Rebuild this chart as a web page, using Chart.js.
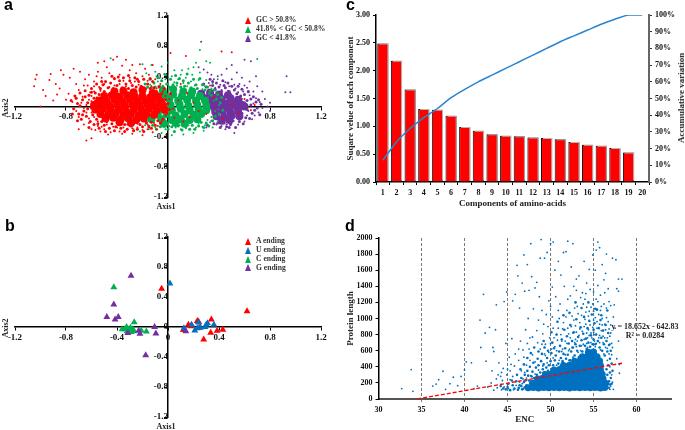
<!DOCTYPE html>
<html>
<head>
<meta charset="utf-8">
<script src="https://cdn.jsdelivr.net/npm/chart.js@4"></script>
<style>
body { margin: 0; background: #fff; }
#page { position: relative; width: 685px; height: 430px; overflow: hidden; }
canvas { position: absolute; }
.txt { position: absolute; font: bold 8px "Liberation Serif", serif; color: #222; white-space: nowrap; }
.letter { position: absolute; font: bold 16px "Liberation Sans", sans-serif; color: #000; line-height: 16px; }
.tri { position: absolute; width: 0; height: 0; border-left: 3.5px solid transparent; border-right: 3.5px solid transparent; border-bottom: 7px solid; }
</style>
</head>
<body>
<div id="page">
<canvas id="chartA" width="340" height="215" style="left:0;top:0"></canvas>
<canvas id="chartB" width="340" height="215" style="left:0;top:215px"></canvas>
<canvas id="chartC" width="345" height="215" style="left:340px;top:0"></canvas>
<canvas id="chartD" width="345" height="215" style="left:340px;top:215px"></canvas>
</div>
<script>
var RED = "#ff0000", GREEN = "#00b050", PURPLE = "#7030a0", BLUE = "#0070c0";
var SERIF = "Liberation Serif";

// panel a, scattered dots
var gcHighDots = [[-1.03,.42],[-1.04,.36],[-1.05,.27],[-.98,.22],[-.96,.14],[-.93,.35],[-.92,.43],[-.88,.3],[-.85,.24],[-.82,.42],[-.87,.16],[-.84,.48],[-.9,.08],[-.8,.09],[-.77,.38],[-.74,.5],[-.72,.3],[-.7,.22],[-.69,.46],[-.67,.13],[-.65,.36],[-.63,.28],[-.62,.42],[-.61,.19],[-.6,.07],[-1,0],[-.78,.17],[-.75,.06],[-.72,-.06],[-.7,-.14],[-.66,-.24],[-.7,-.3],[-.64,-.08],[-.62,-.16],[-.6,-.3],[-.64,.02],[-.66,-.02],[-.68,.05],[-.58,.33],[-.66,.28],[-.56,.4],
[-.55,.58],[-.5,.6],[-.48,.52],[-.43,.62],[-.4,.66],[-.36,.54],[-.33,.62],[-.3,.48],[-.28,.55],[-.25,.44],[-.22,.56],[-.18,.5],[-.15,.42],[-.12,.55],[-.55,.46],[-.52,.38],[-.46,.44],[-.42,.36],[-.38,.42],[-.35,.34],[-.3,.38],[-.26,.33],[-.2,.4],[-.16,.34],[-.1,.36],[-.06,.3],[-.58,.27],[-.54,.26],[-.5,.3],[-.46,.26],[-.42,.28],[-.38,.3],[-.33,.27],[-.58,.2],[-.56,.12],[-.53,.21],[-.29,.31],[-.23,.29],[-.13,.27],[-.09,.24],[-.04,.2],[-.02,.14],[.01,.1],[-.6,.14],[-.62,.09],
[-.62,-.22],[-.55,-.26],[-.5,-.3],[-.45,-.34],[-.4,-.28],[-.36,-.36],[-.32,-.3],[-.28,-.36],[-.24,-.28],[-.2,-.38],[-.16,-.3],[-.12,-.34],[-.55,-.2],[-.48,-.24],[-.4,-.22],[-.32,-.24],[-.24,-.23],[-.16,-.24],[-.08,-.26],[-.64,-.45],[-.6,-.42],[-.53,-.33],[-.58,-.14],[-.6,-.08],[-.52,-.27],[-.43,-.27],[-.35,-.28],[-.28,-.29],[-.2,-.31],[-.11,-.22],[-.05,-.2],[-.02,-.12],[-.57,-.31],[-.47,-.37],[-.38,-.33],[-.57,-.03],[-.09,-.3],
[.02,.71],[.14,.67],[.42,.73],[.5,.72],[.1,.3],[.15,.18],[.3,-.1],[.05,-.15],[.2,.05],[.5,.02],[.6,.1],[.65,-.05],[.33,.28],[.12,-.2],[.24,-.06],[.08,.08],[.04,-.03],[.17,-.14],[.36,.12],[.43,-.16],[.55,-.08],[.68,.02]];
var gcMidDots = [[.25,.75],[.7,.63],[-.45,.64],[-.2,.56],[-.13,.55],[-.05,.53],[0,.58],[.05,.48],[.1,.42],[.16,.5],[.22,.58],[.3,.6],[.33,.58],[-.17,.44],[-.1,.46],[-.03,.43],[.03,.4],[.08,.36],[.14,.38],[.19,.42],[.25,.45],[.3,.35],[.35,.3],[.39,.36],[-.08,.33],[-.02,.36],[.05,.32],[.12,.31],[.18,.33],[.24,.35],[.29,.27],[.34,.24],[-.14,.29],[-.06,.27],[0,.3],[.07,.28],[.15,.27],[.21,.28],[.27,.23],[.38,.2],[.32,.17],[.36,.08],[.4,.02],[.37,-.06],[.34,-.14],[.39,-.2],
[-.15,-.3],[-.05,-.35],[.03,-.38],[.12,-.37],[.2,-.35],[.28,-.32],[.35,-.28],[.1,-.3],[-.22,-.33],[-.27,-.3],[-.1,-.28],[-.02,-.3],[.06,-.28],[.14,-.29],[.22,-.28],[.29,-.25],[.33,-.21],[-.18,-.25],[-.06,-.24],[.01,-.26],[.09,-.25],[.16,-.25],[.24,-.23],[-.24,-.18],[-.2,-.12],[-.18,.05],[-.2,.16],[-.17,.24],[-.22,.1],[.31,-.18],[.27,-.27],[-.12,.21],[-.09,.4],[.11,.48],[.2,.52]];
var gcLowDots = [[.26,.86],[.6,.62],[.65,.6],[.93,.4],[.92,.19],[.96,.19],[.69,.4],[.8,.05],[.8,-.06],[.5,.55],[.46,.5],[.42,.42],[.54,.45],[.58,.38],[.64,.33],[.7,.27],[.74,.2],[.67,.2],[.62,.25],[.56,.3],[.5,.36],[.45,.32],[.39,.4],[.34,.42],[.28,.49],[.24,.52],[.31,.45],[.36,.36],[.41,.29],[.48,.27],[.53,.24],[.59,.2],[.64,.15],[.69,.11],[.72,.06],[.76,.1],[.78,0],[.74,-.02],[.71,-.08],[.68,-.12],[.66,-.17],[.62,-.12],[.6,-.2],[.57,-.16],[.55,-.24],[.52,-.35],[.45,-.3],[.3,-.28],[.5,-.22],[.46,-.24],[.42,-.26],[.38,-.24],[.34,-.19],[.63,-.06],[.67,.04],[.61,.02],[.58,.1],[.55,.19],[.47,.21],[.42,.22],[.37,.25],[.32,.31],[.28,.2],[.63,.19],[.6,.28],[.52,.29]];

// panel a, denser ring round each cloud
var gcHighHalo = [[-.76,.08],[-.74,-.03],[-.73,.14],[-.71,.04],[-.7,-.1],[-.69,.18],[-.68,-.17],[-.67,.09],[-.66,-.06],[-.65,.21],[-.64,-.13],[-.63,.05],[-.62,.15],[-.61,-.2],[-.6,.24],[-.6,-.02],[-.59,-.11],[-.58,.11],[-.57,.18],[-.56,-.17],[-.56,.3],[-.55,-.23],[-.54,.16],[-.53,.24],[-.52,-.2],[-.51,.29],[-.5,.2],[-.5,-.25],[-.49,.33],[-.48,-.2],[-.47,.25],[-.46,-.29],[-.45,.31],[-.44,-.23],[-.43,.24],[-.42,.37],[-.41,-.27],[-.4,.28],[-.39,-.23],[-.38,.34],[-.37,-.29],[-.36,.25],[-.35,.38],[-.34,-.24],[-.33,.3],[-.32,-.3],[-.31,.24],[-.3,.34],[-.29,-.26],[-.28,.28],[-.27,-.22],[-.26,.38],[-.25,.26],[-.24,-.3],[-.23,.33],[-.22,-.24],[-.21,.27],[-.2,-.27],[-.19,.36],[-.18,.23],[-.17,-.22],[-.16,.3],[-.15,-.27],[-.14,.24],[-.13,-.21],[-.12,.33],[-.11,.25],[-.1,-.25],[-.09,.2],[-.08,-.19],[-.07,.26],[-.06,-.22],[-.05,.17],[-.04,-.17],[-.03,.24],[-.02,.09],[-.01,-.09],[0,.04],[.01,-.04],[.02,.17],[-.75,-.1],[-.72,.11],[-.71,-.19],[-.69,.01],[-.67,-.11],[-.65,.13],[-.63,-.03],[-.62,-.28],[-.6,.19],[-.58,-.24],[-.57,.07],[-.54,-.29],[-.52,.33],[-.49,-.33],[-.44,.4],[-.42,-.32],[-.39,.39],[-.34,-.33],[-.31,.41],[-.27,-.32],[-.24,.36],[-.19,-.33],[-.14,.37],[-.13,-.29]];
var gcMidHalo = [[-.2,.2],[-.18,.3],[-.17,-.2],[-.16,.26],[-.15,-.26],[-.14,.36],[-.13,.25],[-.12,-.25],[-.11,.31],[-.1,.26],[-.09,-.3],[-.08,.38],[-.07,.27],[-.06,-.27],[-.05,.34],[-.04,.27],[-.03,-.26],[-.02,.42],[-.01,.3],[0,-.3],[.01,.26],[.02,.36],[.03,-.27],[.04,.29],[.05,-.33],[.06,.41],[.07,.31],[.08,-.26],[.09,.37],[.1,.26],[.11,-.31],[.12,.34],[.13,.27],[.14,-.27],[.15,.43],[.16,.31],[.17,-.3],[.18,.25],[.19,-.25],[.2,.36],[.21,-.3],[.22,.29],[.23,.24],[.24,-.26],[.25,.37],[.26,-.21],[.27,.29],[.28,-.28],[.29,.22],[.3,-.22],[.31,.26],[.32,-.26],[.33,.2],[.34,.15],[.35,-.19],[.36,.22],[.37,-.13],[.38,.1],[.39,.16],[.4,-.1],[.41,.05],[.42,.12],[.43,-.05]];
var gcLowHalo = [[.28,.3],[.3,.26],[.32,.22],[.33,.36],[.35,.28],[.36,-.23],[.37,.23],[.38,.31],[.39,-.22],[.4,.26],[.41,-.28],[.42,.2],[.43,.34],[.44,-.22],[.45,.25],[.46,-.27],[.47,.31],[.48,.2],[.49,-.24],[.5,.27],[.51,-.19],[.52,.22],[.53,-.28],[.54,.17],[.55,.27],[.56,-.2],[.57,.14],[.58,.23],[.59,-.23],[.6,.16],[.61,-.15],[.62,.08],[.63,.2],[.64,-.16],[.65,.1],[.66,-.09],[.67,.13],[.68,-.05],[.69,.06],[.7,-.02],[.71,.09],[.72,-.11],[.73,.03],[.62,-.04],[.58,-.09],[.6,.05],[.65,.02],[.57,.05],[.44,.28],[.31,-.25],[.35,.33],[.48,-.28]];

// panel a, solid middle of each cloud
var gcHighCore = [[-.42,.2],[-.35,.21],[-.27,.19],[-.2,.22],[-.12,.18],[-.5,.14],[-.44,.15],[-.38,.13],[-.32,.15],[-.26,.13],[-.2,.14],[-.14,.12],[-.08,.13],[-.54,.08],[-.48,.07],[-.42,.09],[-.36,.07],[-.3,.09],[-.24,.07],[-.18,.08],[-.12,.06],[-.06,.07],[-.58,.02],[-.52,.03],[-.46,.01],[-.4,.03],[-.34,.01],[-.28,.03],[-.22,.01],[-.16,.03],[-.1,0],[-.04,.02],[-.57,-.04],[-.51,-.03],[-.45,-.05],[-.39,-.04],[-.33,-.06],[-.27,-.04],[-.21,-.05],[-.15,-.03],[-.09,-.05],[-.03,-.04],[-.53,-.1],[-.47,-.11],[-.41,-.09],[-.35,-.11],[-.29,-.1],[-.23,-.12],[-.17,-.1],[-.11,-.11],[-.49,-.16],[-.43,-.15],[-.37,-.17],[-.31,-.16],[-.25,-.18],[-.19,-.16],[-.38,-.21],[-.29,-.22]];
var gcMidCore = [[-.04,.21],[.04,.23],[.12,.2],[.19,.2],[-.1,.16],[-.03,.15],[.04,.16],[.11,.14],[.18,.15],[.25,.14],[-.06,.09],[.01,.1],[.08,.08],[.15,.09],[.22,.08],[.29,.08],[-.05,.03],[.02,.02],[.09,.03],[.16,.01],[.23,.02],[.3,.01],[-.04,-.04],[.03,-.05],[.1,-.03],[.17,-.05],[.24,-.04],[.3,-.05],[-.08,-.11],[-.01,-.1],[.06,-.12],[.13,-.1],[.2,-.11],[.26,-.1],[-.13,-.17],[-.05,-.17],[.03,-.18],[.1,-.17],[.17,-.18],[.23,-.17],[-.03,-.23],[.06,-.22],[.13,-.23]];
var gcLowCore = [[.26,.17],[.33,.18],[.4,.16],[.47,.15],[.29,.11],[.35,.12],[.42,.1],[.49,.11],[.55,.09],[.33,.05],[.39,.06],[.45,.04],[.51,.05],[.57,.03],[.36,-.01],[.42,0],[.48,-.02],[.54,-.01],[.6,0],[.37,-.07],[.43,-.06],[.49,-.08],[.55,-.06],[.38,-.13],[.44,-.14],[.5,-.12],[.56,-.13],[.42,-.19],[.48,-.18]];

// panel b
var aEnding = [[-.05,.51],[.62,.21],[.34,.1],[.23,.08],[.16,.03],[.18,.01],[.12,-.04],[.245,-.01],[.24,.07],[.335,-.075],[.385,-.05],[.43,-.035],[.28,-.165]];
var uEnding = [[.015,.58],[.125,-.015],[.185,.03],[.21,-.045],[.24,.06],[.255,-.005],[.29,0],[.3,.03],[.31,.05],[.36,.03],[.23,-.015]];
var cEnding = [[-.425,.53],[-.265,.065],[-.325,0],[-.36,-.03],[-.34,-.03],[-.31,-.035],[-.295,-.01],[-.29,-.065],[-.27,-.055],[-.275,-.03],[-.21,-.045],[-.17,-.06],[-.32,-.055]];
var gEnding = [[-.29,.685],[-.425,.3],[-.48,.135],[-.39,.135],[-.415,.1],[-.105,0],[-.23,-.05],[-.22,-.09],[-.315,-.08],[-.095,-.085],[-.175,-.375],[.14,-.055]];

// panel c
var components = ["1","2","3","4","5","6","7","8","9","10","11","12","13","14","15","16","17","18","19","20"];
var squareValues = [2.49,2.18,1.66,1.31,1.3,1.19,.99,.92,.86,.83,.82,.8,.79,.77,.72,.67,.65,.61,.53,.01];
var accumulative = [13,24,32,38.5,44,50.5,55.5,60,64,68,72,76,80,84,87.5,91,94.5,97.5,100,100];

// panel d
var encDots = [[32.7,130],[33.8,365],[34,95],[36.3,160],[36.7,185],[37,240],[37.5,345],[37.8,120],[38.3,190],[38.7,270],[39.2,165],[39.6,280],[40,360],[40.2,460],[40.8,450],[41.1,130],[41.5,160],[41.8,980],[41.9,640],[42.2,1300],[42.4,820],[42.5,470],[42.9,890],[43.2,350],[43.3,640],[43.6,860],[43.7,1170],[43.4,590],[44,450],[44.2,280],[44.4,230],[44.6,1210],[44.8,690],[44.9,1330],[45,180],[45.2,520],[45.3,350],[45.6,1220],[45.9,1300],[45.5,750],[46.1,1660],[46.2,1530],[46.4,1130],[46.7,1440],[46.9,1790],[47,1340],[47.3,1670],[47.5,1350],[47.7,1930],[46.5,720],[46.8,610],[46.3,480],[45.8,410],[46.6,350],[47.1,860],[47.4,1000],[47.6,760],[47.8,1520],[48,1120],[48.2,1380],[48.4,1450],[48.7,1270],[48.8,1750],[48.9,1980],[49,1100],[49.3,1750],[49.6,1820],[49.8,1220],[50,1930],[50.3,1950],[50.2,1390],[50.5,1600],[50.9,1710],[51.2,1540],[51.5,1820],[51.8,1830],[52,1960],[52.4,1640],[52.6,1930],[52.7,1400],[53,1490],[53.3,1530],[53.7,1320],[53.9,1710],[54.2,1440],[54.5,1610],[54.9,1790],[55.2,1600],[55.3,1850],[55.5,1950],[55.7,1880],[56,1670],[56.4,1560],[56.5,1800],[57.2,1750],[57.6,1730],[57.9,1490],[58.3,1490],[57.9,1340],[57.7,1370],[57,1160],[57.4,1170],[57.3,1020],[57.5,880],[57.9,720],[58,430],[57.7,500],[57.2,640],[58,320],[57.3,120],
[47.2,420],[47.6,480],[47.9,550],[48.2,460],[48.5,700],[48.8,620],[49.1,810],[49.4,540],[49.7,900],[50,690],[50.2,1020],[50.4,760],[50.7,600],[50.9,880],[51.1,1180],[51.3,720],[51.5,950],[51.7,550],[51.9,1100],[52.1,810],[52.3,1280],[52.5,640],[52.7,980],[52.9,740],[53.1,1150],[53.2,580],[53.4,870],[53.6,1040],[53.8,680],[54,1240],[54.1,930],[54.3,760],[54.5,1090],[54.6,1360],[54.7,820],[54.9,1180],[55,980],[55.1,720],[55.3,1240],[55.4,880],[55.6,1050],[55.7,790],[55.9,1150],[56,920],[56.1,700],[56.3,1320],[56.4,860],[56.5,1010],[56.6,630],[56.8,1210],[56.9,780],[57,920],[56.8,560],[57.1,690],[56.2,1480],[55.5,1410],[54.2,1140],[53.5,1260],[52.8,1130],[51.6,1400],[50.6,1270],[49.5,1050],[49,680],[48.4,850],[47.5,620],[51,480],[50.3,510],[49.6,450],[49.1,410],[48.6,360],[48.2,310],[47.7,290],[47.2,260],[46.8,250],[46.4,210],[46,170],[45.6,280],[45.1,130],[44.6,150],[44.3,115],[43.8,140],[43.4,110],[46.7,190],[46.3,130],[45.7,115],[45.3,240],[44.9,300],[44.5,380],[43.9,300],[47,330],[52.1,600],[52.6,520],[53.1,720],[53.6,660],[54.2,690],[54.7,700],[55.2,650],[55.8,610],[56.2,560],[56.6,480],[56.9,400],[57.1,300],[57.2,210],[57,160],[56.9,120],[51.4,620],[50.7,420],[50.1,620],[49.3,560],[48.1,230],[51.9,690],[53,830],[53.9,900],[54.4,860],[55,830],[55.7,700],[56.3,760],[52.4,900],[51.2,800],[49.9,760],
[49.4,680],[49.8,580],[50.3,880],[50.5,650],[50.8,730],[51,1000],[51.3,590],[51.4,870],[51.7,720],[51.8,1020],[52,880],[52.2,620],[52.3,760],[52.5,1030],[52.6,820],[52.8,700],[52.9,910],[53,650],[53.2,1060],[53.3,790],[53.4,950],[53.5,600],[53.7,840],[53.8,1180],[53.9,740],[54,990],[54.1,1080],[54.2,820],[54.3,640],[54.4,1030],[54.5,790],[54.6,920],[54.7,1140],[54.8,760],[54.9,890],[55,1090],[55.1,800],[55.2,1010],[55.3,690],[55.4,960],[55.5,1210],[55.6,760],[55.7,930],[55.8,1100],[55.9,850],[56,1000],[56.1,780],[56.2,1180],[56.3,930],[56.4,640],[56.5,1130],[56.6,760],[56.7,960],[56.8,870],[56.9,680],[57,820],[57.1,550],[50,1150],[50.9,1100],[52,1240],[53,1350],[54.1,1310],[55,1330],[55.8,1290],[56.7,1370],[49.2,930],[48.6,980],[47.9,770],[47.3,690],[46.9,520],[46.3,620],[45.9,560],[45.4,430],[45,370],[44.3,330],[43.7,250],[43.1,200],[42.7,150]];
var encHalo = [[44.8,120],[45,150],[45.3,110],[45.6,170],[45.8,130],[46,220],[46.2,115],[46.4,170],[46.6,260],[46.7,120],[46.9,210],[47,300],[47.2,170],[47.3,350],[47.5,230],[47.6,400],[47.8,280],[47.9,340],[48,450],[48.1,260],[48.3,390],[48.4,300],[48.5,500],[48.6,420],[48.8,330],[48.9,470],[49,560],[49.1,370],[49.2,430],[49.3,640],[49.5,390],[49.6,510],[49.7,600],[49.8,420],[50,470],[50.1,570],[50.2,700],[50.3,420],[50.4,630],[50.5,480],[50.6,540],[50.7,800],[50.9,440],[51,590],[51.1,660],[51.2,510],[51.3,740],[51.4,470],[51.5,560],[51.6,860],[51.7,630],[51.8,500],[51.9,780],[52,550],[52.1,690],[52.2,480],[52.3,920],[52.4,590],[52.5,720],[52.6,640],[52.7,830],[52.8,540],[52.9,680],[53,990],[53.1,600],[53.2,770],[53.3,520],[53.4,660],[53.5,890],[53.6,730],[53.7,590],[53.8,810],[53.9,1020],[54,660],[54.1,750],[54.2,620],[54.3,880],[54.4,700],[54.5,970],[54.6,650],[54.7,790],[54.8,1050],[54.9,680],[55,860],[55,740],[55.1,940],[55.2,680],[55.3,800],[55.4,1110],[55.5,720],[55.6,880],[55.7,640],[55.8,980],[55.9,760],[56,600],[56.1,850],[56.2,680],[56.3,540],[56.4,920],[56.5,720],[56.6,590],[56.7,820],[56.8,670],[56.9,500],[57,600],[57.1,440],[57.2,350],[57.1,190],[57,260],[56.9,330],[56.8,140],[56.7,420],[46.1,300],[46.5,370],[46.9,430],[47.3,510],[47.7,570],[48.1,640],[48.6,590],[49.2,720],[50.1,830],[50.8,960],[51.5,1040],[52.2,1070],[52.9,1200],[53.6,1130],[54.4,1200],[55.2,1120],[55.9,1040],[56.6,1100],[46.3,140],[46.6,160],[46.8,125],[47,145],[45.5,230],[45.1,190],[44.5,130],[44.2,160],[47.4,140],[47.8,180],[47.1,230],[47.4,290],[48,200],[48.3,240],[51.1,400],[51.4,450],[51.8,430],[52.3,480],[52.7,500],[49.7,350],[49.2,330],[50.6,370],[56.8,220],[56.9,180],[56.6,300],[56.5,370]];
var encCore = [[47.4,140],[48,144],[48.6,138],[49.2,142],[49.8,140],[50.4,144],[51,139],[51.6,142],[52.2,138],[52.8,144],[53.4,140],[54,143],[54.6,139],[55.2,142],[55.8,138],[56.3,143],[47.9,195],[48.5,198],[49,192],[49.6,196],[50.2,194],[50.8,198],[51.4,193],[52,197],[52.6,192],[53.2,196],[53.8,194],[54.4,198],[55,193],[55.6,196],[56.1,192],[56.4,196],[48.5,250],[49,254],[49.6,248],[50.2,252],[50.8,250],[51.4,254],[52,249],[52.6,253],[53.2,248],[53.8,252],[54.4,250],[55,254],[55.6,249],[56.1,253],[49.4,305],[50,308],[50.6,302],[51.2,306],[51.8,304],[52.4,308],[53,303],[53.6,307],[54.2,302],[54.8,306],[55.4,304],[56,308],[50.4,360],[51,364],[51.6,358],[52.2,362],[52.8,360],[53.4,364],[54,359],[54.6,363],[55.2,358],[55.8,362],[51.5,415],[52.2,418],[52.8,412],[53.4,416],[54,414],[54.6,418],[55.2,413],[55.8,417],[52.8,470],[53.4,473],[54,467],[54.6,471],[55.2,469],[55.7,473],[53.7,525],[54.3,528],[54.9,522],[55.4,526],[54.4,580],[55,583]];
var trendEnc = [[34.5,1],[58.3,444]];

var page = document.getElementById("page");

function addText(text, x, y, cls, rotate, size) {
    var el = document.createElement("div");
    el.className = cls || "txt";
    el.textContent = text;
    el.style.left = x + "px";
    el.style.top = y + "px";
    if (size) {
        el.style.fontSize = size + "px";
    }
    if (cls !== "letter") {
        el.style.transform = "translate(-50%,-50%)" + (rotate ? " rotate(-90deg)" : "");
    }
    page.appendChild(el);
}

function addLegendRow(text, color, x, y) {
    var tri = document.createElement("div");
    tri.className = "tri";
    tri.style.left = x - 3.5 + "px";
    tri.style.top = y - 3.5 + "px";
    tri.style.borderBottomColor = color;
    page.appendChild(tri);
    var el = document.createElement("div");
    el.className = "txt";
    el.textContent = text;
    el.style.left = x + 8 + "px";
    el.style.top = y - 5 + "px";
    el.style.color = "#333";
    el.style.fontSize = "7.6px";
    page.appendChild(el);
}

function crossAxis(position) {
    return {
        type: "linear",
        min: -1.2,
        max: 1.2,
        position: position,
        border: { color: "#000", width: 1.5 },
        grid: { drawOnChartArea: false, color: "#000", tickLength: 3 },
        ticks: {
            stepSize: 0.4,
            maxRotation: 0,
            padding: 2,
            color: "#111",
            font: { family: SERIF, weight: "bold", size: 9 },
            callback: function (v) {
                return Math.abs(v) < 0.001 ? "0" : v.toFixed(1);
            }
        }
    };
}

function crossOptions(padding) {
    return {
        responsive: false,
        animation: false,
        layout: { padding: padding },
        plugins: { legend: { display: false }, tooltip: { enabled: false } },
        scales: { x: crossAxis({ y: 0 }), y: crossAxis({ x: 0 }) }
    };
}

function cloud(points, color, radius, order) {
    return { data: points, backgroundColor: color, borderWidth: 0, pointRadius: radius, order: order };
}

function triangles(label, points, color, order) {
    return { label: label, data: points, pointStyle: "triangle", backgroundColor: color, borderColor: color, borderWidth: 0, pointRadius: 4, order: order };
}

new Chart(document.getElementById("chartA"), {
    type: "scatter",
    data: {
        datasets: [
            cloud(gcHighDots, RED, 1, 1),
            cloud(gcHighHalo, RED, 1.5, 2),
            cloud(gcHighCore, RED, 4, 3),
            cloud(gcMidDots, GREEN, 1, 4),
            cloud(gcMidHalo, GREEN, 1.5, 5),
            cloud(gcMidCore, GREEN, 4, 6),
            cloud(gcLowDots, PURPLE, 1, 7),
            cloud(gcLowHalo, PURPLE, 1.5, 8),
            cloud(gcLowCore, PURPLE, 4, 9)
        ]
    },
    options: crossOptions({ left: 15, right: 19, top: 16, bottom: 18 })
});

new Chart(document.getElementById("chartB"), {
    type: "scatter",
    data: {
        datasets: [
            triangles("U ending", uEnding, BLUE, 1),
            triangles("A ending", aEnding, RED, 2),
            triangles("C ending", cEnding, GREEN, 3),
            triangles("G ending", gEnding, PURPLE, 0)
        ]
    },
    options: crossOptions({ left: 15, right: 19, top: 22, bottom: 13 })
});

// grey drop shadow behind the red bars
var barShadow = {
    id: "barShadow",
    beforeDatasetDraw: function (chart, args) {
        if (args.meta.type === "bar") {
            chart.ctx.save();
            chart.ctx.shadowColor = "#b5b5b5";
            chart.ctx.shadowOffsetX = 1;
            chart.ctx.shadowOffsetY = -1;
        }
    },
    afterDatasetDraw: function (chart, args) {
        if (args.meta.type === "bar") {
            chart.ctx.restore();
        }
    }
};

function smallTicks(extra) {
    var t = { color: "#111", padding: 3, font: { family: SERIF, weight: "bold", size: 8 } };
    for (var k in extra) {
        t[k] = extra[k];
    }
    return t;
}

var titleFont = { family: SERIF, weight: "bold", size: 9 };

new Chart(document.getElementById("chartC"), {
    type: "bar",
    plugins: [barShadow],
    data: {
        labels: components,
        datasets: [
            {
                type: "line",
                data: accumulative,
                yAxisID: "y1",
                borderColor: "#2a85d0",
                borderWidth: 1.5,
                pointRadius: 0,
                tension: 0.2,
                order: 0
            },
            {
                data: squareValues,
                yAxisID: "y",
                backgroundColor: RED,
                borderColor: "#111",
                borderWidth: 1,
                barPercentage: 0.82,
                categoryPercentage: 1,
                order: 1
            }
        ]
    },
    options: {
        responsive: false,
        animation: false,
        layout: { padding: { top: 15, left: 0, right: 0, bottom: 0 } },
        plugins: { legend: { display: false }, tooltip: { enabled: false } },
        scales: {
            x: {
                afterFit: function (s) { s.height = 33; },
                border: { color: "#000", width: 1.5 },
                grid: { drawOnChartArea: false, color: "#000", tickLength: 3 },
                ticks: smallTicks({ maxRotation: 0, autoSkip: false }),
                title: { display: true, text: "Components of amino-acids", color: "#222", font: titleFont, padding: { top: 3, bottom: 6 } }
            },
            y: {
                min: 0,
                max: 3,
                afterFit: function (s) { s.width = 36; },
                border: { color: "#000", width: 1.5 },
                grid: { drawOnChartArea: false, color: "#000", tickLength: 3 },
                ticks: smallTicks({ stepSize: 0.5, callback: function (v) { return v.toFixed(2); } }),
                title: { display: true, text: "Suqare velue of each component", color: "#222", font: titleFont, padding: { top: 5, bottom: 0 } }
            },
            y1: {
                position: "right",
                min: 0,
                max: 100,
                afterFit: function (s) { s.width = 36; },
                border: { color: "#666", width: 2 },
                grid: { drawOnChartArea: false, color: "#333", tickLength: 3 },
                ticks: smallTicks({ stepSize: 10, callback: function (v) { return v + "%"; } })
            }
        }
    }
});

new Chart(document.getElementById("chartD"), {
    type: "scatter",
    data: {
        datasets: [
            {
                type: "line",
                data: trendEnc,
                borderColor: RED,
                borderWidth: 1.3,
                borderDash: [4, 2],
                pointRadius: 0,
                order: 0
            },
            { data: encDots, backgroundColor: BLUE, borderWidth: 0, pointRadius: 0.9, order: 1 },
            { data: encHalo, backgroundColor: BLUE, borderWidth: 0, pointRadius: 1.3, order: 2 },
            { data: encCore, backgroundColor: BLUE, borderWidth: 0, pointRadius: 3.5, order: 3 }
        ]
    },
    options: {
        responsive: false,
        animation: false,
        layout: { padding: { top: 23, right: 14, left: 0, bottom: 0 } },
        plugins: { legend: { display: false }, tooltip: { enabled: false } },
        scales: {
            x: {
                type: "linear",
                min: 30,
                max: 64,
                afterFit: function (s) { s.height = 31; },
                afterBuildTicks: function (s) {
                    s.ticks = s.ticks.filter(function (t) { return t.value <= 60; });
                },
                border: { color: "#555", width: 2, dash: [3, 2] },
                grid: {
                    color: function (c) { return c.tick && c.tick.value > 30 ? "#777" : "transparent"; },
                    tickLength: 3
                },
                ticks: smallTicks({ stepSize: 5, maxRotation: 0 }),
                title: { display: true, text: "ENC", color: "#222", font: titleFont, padding: { top: 3, bottom: 5 } }
            },
            y: {
                min: 0,
                max: 2000,
                afterFit: function (s) { s.width = 38.5; },
                border: { color: "#000", width: 1.5 },
                grid: { drawOnChartArea: false, color: "#000", tickLength: 3 },
                ticks: smallTicks({ stepSize: 200, callback: function (v) { return String(v); } }),
                title: { display: true, text: "Protein length", color: "#222", font: titleFont, padding: { top: 5, bottom: 0 } }
            }
        }
    }
});

addText("a", 4, -3, "letter");
addText("b", 5, 218, "letter");
addText("c", 346, -3, "letter");
addText("d", 345, 218, "letter");

addLegendRow("GC > 50.8%", RED, 248, 20);
addLegendRow("41.8% < GC < 50.8%", GREEN, 248, 29);
addLegendRow("GC < 41.8%", PURPLE, 248, 38);
addLegendRow("A ending", RED, 248, 241);
addLegendRow("U ending", BLUE, 248, 250);
addLegendRow("C ending", GREEN, 248, 259);
addLegendRow("G ending", PURPLE, 248, 267.5);

addText("Axis1", 166, 206);
addText("Axis2", 5, 108, "txt", true);
addText("Axis1", 166, 426);
addText("Axis2", 5, 328, "txt", true);
addText("Accumulative variation", 681, 98, "txt", true, 9);

addText("y = 18.652x - 642.83", 645, 326);
addText("R\u00b2 = 0.0284", 645, 335);
</script>
</body>
</html>
